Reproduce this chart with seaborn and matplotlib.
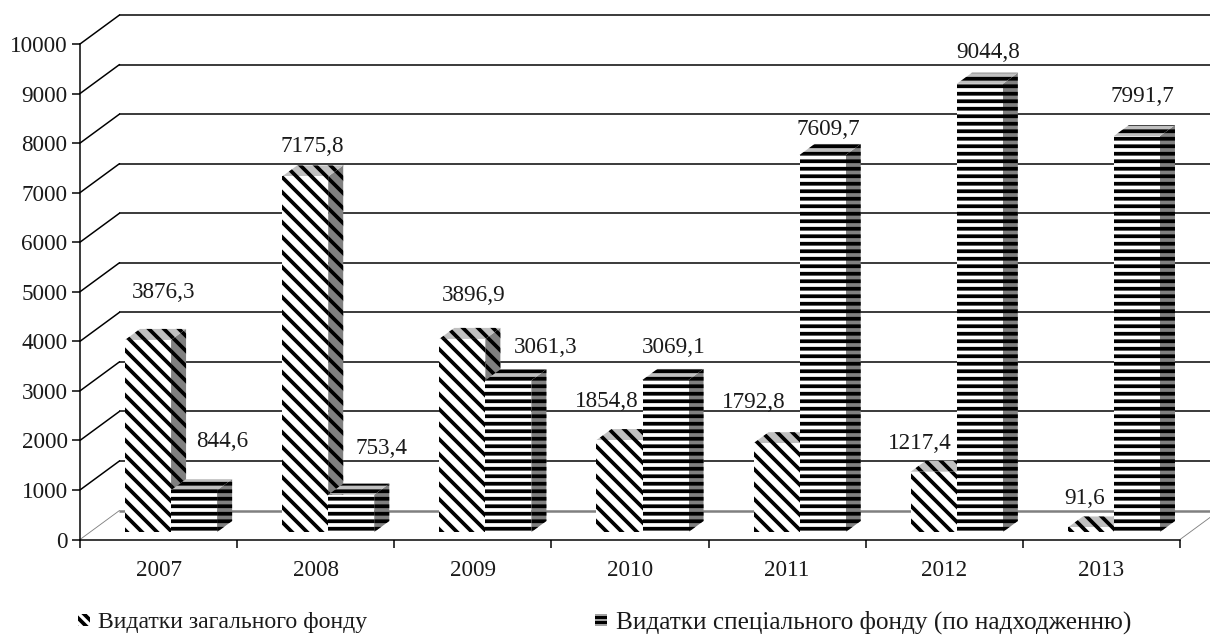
import numpy as np
import pandas as pd
import matplotlib
matplotlib.use('Agg')
import matplotlib.pyplot as plt
import seaborn as sns
from matplotlib.patches import Patch, Polygon
from matplotlib.transforms import Affine2D

# Data
years = ['2007', '2008', '2009', '2010', '2011', '2012', '2013']
general_fund = [3876.3, 7175.8, 3896.9, 1854.8, 1792.8, 1217.4, 91.6]
special_fund = [844.6, 753.4, 3061.3, 3069.1, 7609.7, 9044.8, 7991.7]
general_name = 'Видатки загального фонду'
special_name = 'Видатки спеціального фонду (по надходженню)'
general_text = ['3876,3', '7175,8', '3896,9', '1854,8', '1792,8', '1217,4', '91,6']
special_text = ['844,6', '753,4', '3061,3', '3069,1', '7609,7', '9044,8', '7991,7']
y_ticks = [0, 1000, 2000, 3000, 4000, 5000, 6000, 7000, 8000, 9000, 10000]

# Label centres relative to the top of the front face, in pixels
general_dx = [16, 7, 11, -13, -23, -14, -6]
general_dy = [47, 30, 43, 39, 41, 28, 29]
special_dx = [28, 30, 37, 8, 6, 8, 5]
special_dy = [49, 46, 33, 32, 25, 31, 40]

DPI = 90
W, H = 1210, 635
AX_L, AX_R, AX_T, AX_B = 80, 1180, 44, 539.5

sns.set_theme(style='white')
plt.rcParams['font.family'] = ['Liberation Serif', 'DejaVu Serif']
plt.rcParams['hatch.linewidth'] = 3.0
plt.rcParams['hatch.color'] = 'black'

df = pd.DataFrame({
    'year': years * 2,
    'value': general_fund + special_fund,
    'fund': [general_name] * 7 + [special_name] * 7,
})

fig = plt.figure(figsize=(W / DPI, H / DPI), dpi=DPI, facecolor='white')
ax = fig.add_axes([AX_L / W, 1 - AX_B / H, (AX_R - AX_L) / W, (AX_B - AX_T) / H])
sns.barplot(data=df, x='year', y='value', hue='fund', width=0.586, gap=0,
            dodge=True, legend=False, ax=ax)
ax.set_xlim(-0.5, 6.5)
ax.set_ylim(0, 10000)
ax.set_xlabel('')
ax.set_ylabel('')

# Back wall of the 3D box
wall = Affine2D().translate(39.5, 29)
to_wall = ax.transData + wall
for v in y_ticks:
    color = '#808080' if v == 0 else 'black'
    lw = 2.0 if v == 0 else 1.2
    ax.plot([-0.5, 7.5], [v, v], color=color, lw=lw, transform=to_wall,
            clip_on=False, zorder=1, solid_capstyle='butt')
    x0, y0 = ax.transData.transform((-0.5, v))
    ax.plot([x0, x0 + 39.5], [y0, y0 + 29], color='#808080' if v == 0 else 'black',
            lw=0.7 if v == 0 else 1.2, transform=None, clip_on=False, zorder=1)
x1, y1 = ax.transData.transform((6.5, 0))
ax.plot([x1, x1 + 39.5], [y1, y1 + 29], color='#808080', lw=0.7, transform=None,
        clip_on=False, zorder=1)

# Bars: front face from seaborn, side and top added from the same patches
front = Affine2D().translate(12.5, 7.5)
SIDE_DX, SIDE_DY = 15, 11


def add_depth(bar, hatch, z):
    bar.set_transform(ax.transData + front)
    bar.set_facecolor('white')
    bar.set_edgecolor('black')
    bar.set_linewidth(0)
    bar.set_hatch(hatch)
    bar.set_zorder(z + 0.2)
    bar.set_clip_on(False)
    t = ax.transData + front
    xa, ya = t.transform((bar.get_x(), bar.get_height()))
    xb, yb = t.transform((bar.get_x() + bar.get_width(), 0))
    side = [(xb, yb), (xb + SIDE_DX, yb + SIDE_DY), (xb + SIDE_DX, ya + SIDE_DY), (xb, ya)]
    top = [(xa, ya), (xa + SIDE_DX, ya + SIDE_DY), (xb + SIDE_DX, ya + SIDE_DY), (xb, ya)]
    for verts, fc in ((side, '#808080'), (top, '#c0c0c0')):
        ax.add_patch(Polygon(verts, closed=True, facecolor=fc, edgecolor='black', lw=0,
                             hatch=hatch, transform=None, clip_on=False, zorder=z))
    return (xa + xb) / 2, ya


for container, hatch, z, texts, dxs, dys in (
        (ax.containers[0], '\\\\', 3, general_text, general_dx, general_dy),
        (ax.containers[1], '--', 4, special_text, special_dx, special_dy)):
    for bar, text, dx, dy in zip(container, texts, dxs, dys):
        cx, cy = add_depth(bar, hatch, z)
        ax.annotate(text, xy=(cx, cy), xycoords='figure pixels', xytext=(dx, dy),
                    textcoords='offset pixels', ha='center', va='center',
                    fontsize=18.5, color='#1a1a1a', zorder=6, annotation_clip=False)

# Axes
sns.despine(ax=ax, top=True, right=True)
for name in ('left', 'bottom'):
    ax.spines[name].set_linewidth(1.2)
    ax.spines[name].set_color('black')
    ax.spines[name].set_zorder(7)
ax.set_yticks(y_ticks)
ax.tick_params(axis='y', which='major', left=True, length=6.4, width=1.2, pad=3.5,
               labelsize=18.5, labelcolor='#1a1a1a', color='black')
ax.set_xticks(np.arange(-0.5, 7.0, 1.0))
ax.set_xticklabels([])
ax.set_xticks(np.arange(7), labels=years, minor=True)
ax.tick_params(axis='x', which='major', bottom=True, length=6.4, width=1.2, color='black')
ax.tick_params(axis='x', which='minor', bottom=False, length=0, pad=16.5,
               labelsize=18.5, labelcolor='#1a1a1a')
ax.patch.set_alpha(0)

# Legend
handles = [Patch(facecolor='white', edgecolor='black', lw=0, hatch='\\\\\\'),
           Patch(facecolor='white', edgecolor='black', lw=0, hatch='---')]
leg = fig.legend(handles, [general_name, special_name], ncol=2, frameon=False, fontsize=19,
                 loc='center left', bbox_to_anchor=(78 / W, 1 - 622 / H),
                 handlelength=0.5, handleheight=0.4, handletextpad=0.35,
                 columnspacing=9.6, borderpad=0, borderaxespad=0, labelcolor='#1a1a1a')
leg.get_texts()[1].set_fontsize(20.2)

fig.savefig('out.png', dpi=DPI)
